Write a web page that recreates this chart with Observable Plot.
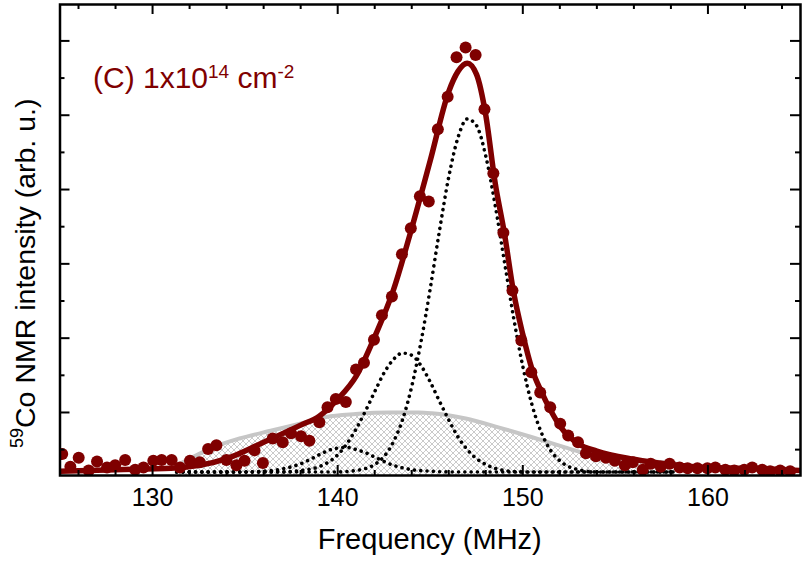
<!DOCTYPE html>
<html>
<head>
<meta charset="utf-8">
<script src="https://cdn.jsdelivr.net/npm/d3@7"></script>
<script src="https://cdn.jsdelivr.net/npm/@observablehq/plot@0.6"></script>
<style>
  html, body { margin: 0; padding: 0; background: white; }
  #chart { width: 806px; height: 563px; }
</style>
</head>
<body>
<div id="chart"></div>
<script>
// ---- data ----
const pointsX = [125.12,125.56,126.01,126.55,127.00,127.54,127.98,128.52,129.06,129.51,130.04,130.49,131.03,131.48,132.02,132.55,133.00,133.45,133.99,134.53,134.97,135.51,135.96,136.49,137.03,137.48,138.02,138.47,139.01,139.45,139.90,140.44,140.99,141.42,141.96,142.39,142.93,143.47,143.95,144.44,144.92,145.41,145.94,146.42,146.91,147.45,147.93,148.41,148.95,149.44,149.92,150.46,150.94,151.48,152.02,152.45,152.98,153.41,153.95,154.49,154.97,155.51,155.94,156.48,156.91,157.45,157.93,158.47,158.90,159.43,159.97,160.40,160.94,161.42,161.96,162.39,162.93,163.36,163.90,164.44];
const pointsY = [0.44,0.27,0.39,0.22,0.34,0.26,0.29,0.36,0.23,0.26,0.35,0.36,0.36,0.26,0.35,0.33,0.51,0.56,0.36,0.29,0.35,0.49,0.32,0.65,0.60,0.72,0.68,0.62,0.87,1.07,1.18,1.14,1.58,1.67,1.98,2.31,2.56,3.13,3.48,3.91,3.84,4.81,5.25,5.78,5.91,5.81,5.08,4.22,3.42,2.64,1.97,1.54,1.27,1.07,0.85,0.69,0.60,0.45,0.41,0.39,0.35,0.29,0.33,0.23,0.31,0.27,0.31,0.26,0.25,0.25,0.25,0.26,0.23,0.22,0.23,0.26,0.23,0.21,0.22,0.21];

const fitX = [125,128,131,134,136,138,139,140,141,142,143,144,145,146,146.5,147,147.5,148,148.5,149,149.5,150,150.5,151,151.5,152,153,154,156,158,160,162,165];
const fitY = [0.21,0.23,0.25,0.38,0.60,0.83,0.95,1.18,1.49,2.02,2.64,3.48,4.39,5.32,5.59,5.70,5.55,5.00,4.10,3.42,2.62,2.05,1.58,1.28,1.03,0.82,0.58,0.48,0.37,0.30,0.26,0.25,0.22];

const broadX = [131.32,131.48,132.34,133.27,134.70,136.49,138.29,139.37,140.98,142.77,143.31,144.38,145.08,146.91,148.68,150.46,152.28,153.09,154.60,156.21,158.20];
const broadY = [0.29,0.31,0.42,0.53,0.65,0.76,0.87,0.94,0.98,1.00,1.00,1.00,0.99,0.92,0.80,0.67,0.53,0.47,0.41,0.36,0.32];

const peak1X = [131.3,140,141,142,143,143.5,144,144.5,145,145.5,146,146.5,147,147.5,148,148.5,149,149.5,150,150.5,151,151.5,152,153,154,158.2];
const peak1Y = [0.20,0.20,0.22,0.30,0.60,0.90,1.35,1.95,2.67,3.45,4.17,4.70,4.95,4.86,4.45,3.80,3.04,2.28,1.62,1.10,0.73,0.49,0.35,0.23,0.20,0.20];

const peak2X = [131.3,137,138,139,140,140.5,141,141.5,142,142.5,143,143.5,144,144.5,145,145.5,146,146.5,147,147.5,148,149,150,158.2];
const peak2Y = [0.20,0.20,0.22,0.27,0.43,0.58,0.78,1.02,1.28,1.53,1.71,1.80,1.77,1.63,1.41,1.15,0.90,0.67,0.50,0.38,0.30,0.22,0.20,0.20];

const peak3X = [131.3,135,136,137,138,139,139.5,140,140.5,141,141.5,142,143,144,145,146,158.2];
const peak3Y = [0.20,0.20,0.21,0.24,0.31,0.43,0.49,0.52,0.53,0.50,0.46,0.40,0.29,0.23,0.21,0.20,0.20];

const xMajor = [130,140,150,160];
const xMinor = [126,128,132,134,136,138,142,144,146,148,152,154,156,158,162,164];
const yMajor = [1,2,3,4,5,6];
const yMinor = [0.5,1.5,2.5,3.5,4.5,5.5];
const xTickLabels = ["130","140","150","160"];
const xDomain = [125,165];
const yDomain = [0.152,6.49];

const xTitle = "Frequency (MHz)";
const yTitleSup = "59";
const yTitleMain = "Co NMR intensity (arb. u.)";
const sampleMain = "(C) 1x10";
const sampleExp1 = "14";
const sampleUnit = " cm";
const sampleExp2 = "-2";

// ---- build tables ----
const zip = (xs, ys) => xs.map((x, i) => ({x, y: ys[i]}));
const points = zip(pointsX, pointsY);
const fit = zip(fitX, fitY);
const broad = zip(broadX, broadY);
const peaks = [zip(peak1X, peak1Y), zip(peak2X, peak2Y), zip(peak3X, peak3Y)];

const W = 806, H = 563;
const mL = 59.5, mR = 6, mT = 4, mB = 88;
const frameW = W - mL - mR, frameH = H - mT - mB;
const RED = "#7f0000";
const majorLen = 10, minorLen = 5;

const dotted = {stroke: "black", strokeWidth: 3.6, strokeDasharray: "0.01 6.3", strokeLinecap: "round", curve: "monotone-x", clip: true};

const chart = Plot.plot({
  width: W, height: H,
  marginLeft: mL, marginRight: mR, marginTop: mT, marginBottom: mB,
  x: {domain: xDomain},
  y: {domain: yDomain, axis: null},
  style: {fontFamily: "'Liberation Sans', Arial, sans-serif", color: "black", background: "white"},
  marks: [
    Plot.areaY(broad, {x: "x", y1: yDomain[0], y2: "y", fill: "url(#hatch)", curve: "monotone-x", clip: true}),
    Plot.line(broad, {x: "x", y: "y", stroke: "#c6c6c6", strokeWidth: 4, curve: "monotone-x", clip: true}),
    ...peaks.map(p => Plot.line(p, {x: "x", y: "y", ...dotted})),
    Plot.line(fit, {x: "x", y: "y", stroke: RED, strokeWidth: 5.5, curve: "monotone-x", clip: true}),
    Plot.dot(points, {x: "x", y: "y", r: 6, fill: RED, stroke: "none", clip: true}),
    // inward ticks on all four sides
    Plot.tickX(xMajor, {x: d => d, insetTop: frameH - majorLen, stroke: "black", strokeWidth: 2}),
    Plot.tickX(xMinor, {x: d => d, insetTop: frameH - minorLen, stroke: "black", strokeWidth: 2}),
    Plot.tickX(xMajor, {x: d => d, insetBottom: frameH - majorLen, stroke: "black", strokeWidth: 2}),
    Plot.tickX(xMinor, {x: d => d, insetBottom: frameH - minorLen, stroke: "black", strokeWidth: 2}),
    Plot.tickY(yMajor, {y: d => d, insetRight: frameW - majorLen, stroke: "black", strokeWidth: 2}),
    Plot.tickY(yMinor, {y: d => d, insetRight: frameW - minorLen, stroke: "black", strokeWidth: 2}),
    Plot.tickY(yMajor, {y: d => d, insetLeft: frameW - majorLen, stroke: "black", strokeWidth: 2}),
    Plot.tickY(yMinor, {y: d => d, insetLeft: frameW - minorLen, stroke: "black", strokeWidth: 2}),
    Plot.axisX({ticks: xMajor, tickSize: 0, tickPadding: 13, fontSize: 25, label: null,
                tickFormat: d => xTickLabels[xMajor.indexOf(d)]}),
    Plot.frame({stroke: "black", strokeWidth: 2.5})
  ]
});

document.getElementById("chart").appendChild(chart);

// ---- hatch pattern and rich-text labels ----
const svg = d3.select(chart);
const defs = svg.insert("defs", ":first-child");
const pat = defs.append("pattern").attr("id", "hatch")
  .attr("patternUnits", "userSpaceOnUse").attr("width", 6).attr("height", 6);
pat.append("rect").attr("width", 6).attr("height", 6).attr("fill", "white");
pat.append("path").attr("d", "M0,0L6,6M6,0L0,6")
  .attr("stroke", "#bdbdbd").attr("stroke-width", 0.8).attr("fill", "none");

const font = "'Liberation Sans', Arial, sans-serif";

// x title
svg.append("text")
  .attr("x", mL + frameW / 2).attr("y", 549)
  .attr("text-anchor", "middle").attr("font-family", font).attr("font-size", 29)
  .attr("fill", "black").text(xTitle);

// y title
const yt = svg.append("text")
  .attr("transform", "translate(35,448) rotate(-90)")
  .attr("text-anchor", "start").attr("font-family", font).attr("font-size", 28.5).attr("fill", "black");
yt.append("tspan").attr("font-size", 18).attr("dy", -12).text(yTitleSup);
yt.append("tspan").attr("dy", 12).text(yTitleMain);

// sample label
const st = svg.append("text")
  .attr("x", 93).attr("y", 88)
  .attr("text-anchor", "start")
  .attr("font-family", font).attr("font-size", 30).attr("fill", RED);
st.append("tspan").text(sampleMain);
st.append("tspan").attr("font-size", 19).attr("dy", -10).text(sampleExp1);
st.append("tspan").attr("dy", 10).text(sampleUnit);
st.append("tspan").attr("font-size", 19).attr("dy", -10).text(sampleExp2);
</script>
</body>
</html>
